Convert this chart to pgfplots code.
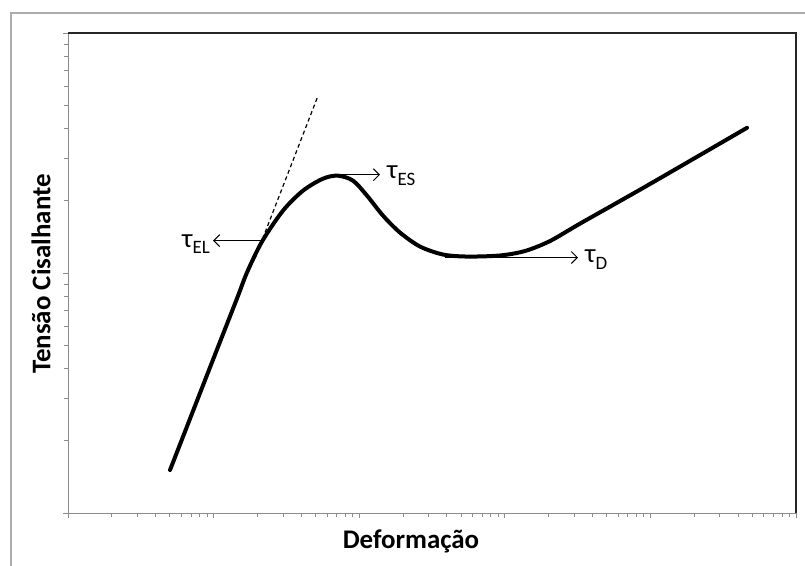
\documentclass[border=0pt]{standalone}
\usepackage{pgfplots}
\pgfplotsset{compat=1.18}
\usepackage{fontspec}
\setmainfont{Carlito}
\usetikzlibrary{arrows.meta}

\begin{document}
\begin{tikzpicture}
\path[use as bounding box] (0,0) rectangle (805bp,-566bp);
% outer chart frame
\draw[gray!65, line width=1.2bp] (11bp,-566bp) -- (11bp,-13bp) -- (805bp,-13bp);

\begin{axis}[
  at={(68bp,-513bp)}, anchor=south west,
  scale only axis, width=728bp, height=480bp,
  xmode=log, ymode=log,
  xmin=1, xmax=100000, ymin=1, ymax=100,
  xtick={1,10,100,1000,10000,100000},
  ytick={1,10,100},
  minor xtick={2,3,4,5,6,7,8,9,20,30,40,50,60,70,80,90,200,300,400,500,600,700,800,900,2000,3000,4000,5000,6000,7000,8000,9000,20000,30000,40000,50000,60000,70000,80000,90000},
  minor ytick={2,3,4,5,6,7,8,9,20,30,40,50,60,70,80,90},
  xticklabels={}, yticklabels={},
  tick align=outside, xtick pos=bottom, ytick pos=left,
  major tick length=5bp, minor tick length=4bp,
  tick style={gray!90, line width=0.8bp},
  axis line style={gray!90, line width=1bp},
  clip=false,
]

% tensao x deformacao
\addplot[black, line width=4bp, line cap=round, smooth, tension=0.5] coordinates {
  (5.02,1.51)
  (9.45,4.044)
  (14.48,7.834)
  (16.96,10.05)
  (21.5,13.52)
  (29.98,18.20)
  (41.11,22.03)
  (56.42,24.72)
  (71.53,25.44)
  (90.7,24.25)
  (113.1,21.01)
  (145.7,17.34)
  (190.6,14.74)
  (261.6,12.89)
  (376.3,11.94)
  (550,11.71)
  (926.7,11.83)
  (1376,12.35)
  (2044,13.59)
  (3285,16.06)
  (9477,23.11)
  (46075,40.27)
};

% tangente elastica
\addplot[black, line width=1.2bp, dash pattern=on 4bp off 3bp] coordinates {
  (19.24,11.49) (52.12,54.7)
};

% setas
\addplot[black, line width=1bp, -{Straight Barb[length=6bp,width=12bp]}] coordinates {
  (21.5,13.65) (9.91,13.65)
};
\addplot[black, line width=1bp, -{Straight Barb[length=6bp,width=12bp]}] coordinates {
  (66.1,25.68) (139,25.68)
};
\addplot[black, line width=1bp, -{Straight Barb[length=6bp,width=12bp]}] coordinates {
  (388,11.60) (3182,11.60)
};

\node[anchor=base east, inner sep=0, font=\fontsize{27}{30}\selectfont]
  at (axis cs:9.45,12.77) {τ\raisebox{-6bp}{\fontsize{19}{22}\selectfont EL}};
\node[anchor=base west, inner sep=0, font=\fontsize{27}{30}\selectfont]
  at (axis cs:155.2,24.71) {τ\raisebox{-7bp}{\fontsize{19}{22}\selectfont ES}};
\node[anchor=base west, inner sep=0, font=\fontsize{27}{30}\selectfont]
  at (axis cs:3556,11.06) {τ\raisebox{-7bp}{\fontsize{19}{22}\selectfont D}};
\end{axis}

\draw[black!85, line width=1.3bp] (68bp,-33bp) -- (796bp,-33bp) -- (796bp,-513bp);

\node[rotate=90, font=\fontsize{27}{30}\selectfont\bfseries] at (41bp,-274bp) {Tensão Cisalhante};
\node[anchor=base, font=\fontsize{27}{30}\selectfont\bfseries] at (411bp,-548bp) {Deformação};
\end{tikzpicture}
\end{document}
